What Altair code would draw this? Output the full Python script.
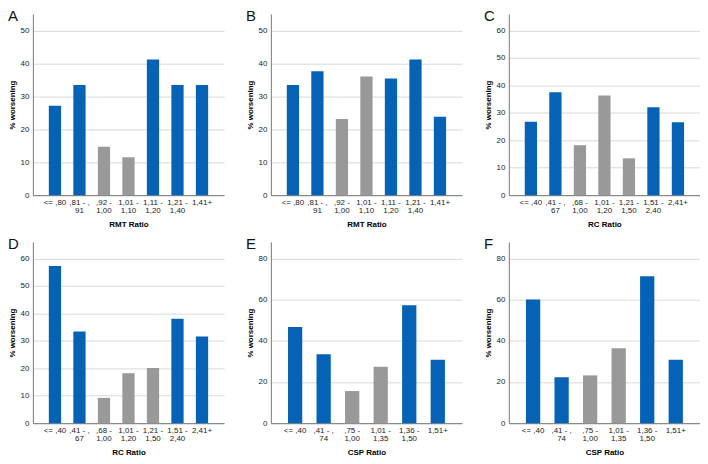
import altair as alt
import pandas as pd

# ---- data ----
rmt_labels = ["<= ,80", ",81 - ,91", ",92 - 1,00", "1,01 - 1,10", "1,11 - 1,20", "1,21 - 1,40", "1,41+"]
rc_labels = ["<= ,40", ",41 - ,67", ",68 - 1,00", "1,01 - 1,20", "1,21 - 1,50", "1,51 - 2,40", "2,41+"]
csp_labels = ["<= ,40", ",41 - ,74", ",75 - 1,00", "1,01 - 1,35", "1,36 - 1,50", "1,51+"]

a_values = [27.1, 33.4, 14.7, 11.5, 41.2, 33.4, 33.4]
b_values = [33.4, 37.6, 23.1, 36.0, 35.4, 41.2, 23.8]
c_values = [26.7, 37.5, 18.2, 36.3, 13.4, 32.0, 26.6]
d_values = [57.2, 33.4, 9.2, 18.2, 20.1, 38.0, 31.6]
e_values = [46.7, 33.5, 15.6, 27.4, 57.3, 30.8]
f_values = [60.1, 22.3, 23.2, 36.4, 71.4, 30.8]

rmt_groups = ["outer", "outer", "middle", "middle", "outer", "outer", "outer"]
rc_groups = ["outer", "outer", "middle", "middle", "middle", "outer", "outer"]
csp_groups = ["outer", "outer", "middle", "middle", "outer", "outer"]

y_ticks_55 = [0, 10, 20, 30, 40, 50]
y_ticks_66 = [0, 10, 20, 30, 40, 50, 60]
y_ticks_88 = [0, 20, 40, 60, 80]

FONT = "Liberation Sans"
W = 192
H = 182

label_expr = (
    "indexof(datum.label, ' - ,') >= 0 "
    "? split(replace(datum.label, ' - ,', ' - ,|'), '|') "
    ": split(replace(datum.label, ' - ', ' - |'), '|')"
)


def panel(letter, labels, values, groups, xtitle, ymax, yticks, pad_outer):
    df = pd.DataFrame({"cat": labels, "pct": values, "grp": groups})
    bars = alt.Chart(df).mark_bar().encode(
        x=alt.X(
            "cat:N",
            sort=labels,
            title=xtitle,
            scale=alt.Scale(paddingInner=0.5, paddingOuter=pad_outer),
            axis=alt.Axis(
                labelAngle=0,
                labelExpr=label_expr,
                ticks=False,
                labelFontSize=8,
                labelLineHeight=8.5,
                labelPadding=3,
                labelColor="#222222",
                titleFontSize=8,
                titleFontWeight="bold",
                titlePadding=6,
                domainColor="#777777",
                grid=False,
            ),
        ),
        y=alt.Y(
            "pct:Q",
            title="% worsening",
            scale=alt.Scale(domain=[0, ymax], nice=False),
            axis=alt.Axis(
                values=yticks,
                ticks=False,
                labelFontSize=8,
                labelPadding=4,
                labelColor="#222222",
                titleFontSize=8,
                titleFontWeight="bold",
                titlePadding=4,
                domainColor="#777777",
                gridColor="#d9d9d9",
            ),
        ),
        color=alt.Color(
            "grp:N",
            scale=alt.Scale(domain=["outer", "middle"], range=["#0562b5", "#999999"]),
            legend=None,
        ),
    )
    tag = alt.Chart(pd.DataFrame({"t": [letter]})).mark_text(
        font=FONT, fontSize=15, align="left", baseline="top", color="#111111"
    ).encode(text="t:N", x=alt.value(-25), y=alt.value(-5))
    return alt.layer(bars, tag).properties(width=W, height=H)


pa = panel("A", rmt_labels, a_values, rmt_groups, "RMT Ratio", 55, y_ticks_55, 0.65)
pb = panel("B", rmt_labels, b_values, rmt_groups, "RMT Ratio", 55, y_ticks_55, 0.65)
pc = panel("C", rc_labels, c_values, rc_groups, "RC Ratio", 66, y_ticks_66, 0.65)
pd_ = panel("D", rc_labels, d_values, rc_groups, "RC Ratio", 66, y_ticks_66, 0.65)
pe = panel("E", csp_labels, e_values, csp_groups, "CSP Ratio", 88, y_ticks_88, 0.6)
pf = panel("F", csp_labels, f_values, csp_groups, "CSP Ratio", 88, y_ticks_88, 0.6)

chart = alt.vconcat(
    alt.hconcat(pa, pb, pc, spacing=22),
    alt.hconcat(pd_, pe, pf, spacing=22),
    spacing=8,
).properties(
    padding={"left": 0, "top": 0, "right": 0, "bottom": 0}
).configure(
    font=FONT
).configure_view(
    strokeWidth=0
).configure_axis(
    labelFont=FONT, titleFont=FONT
)

chart.save("out.html", embed_options={"renderer": "svg", "actions": False})
